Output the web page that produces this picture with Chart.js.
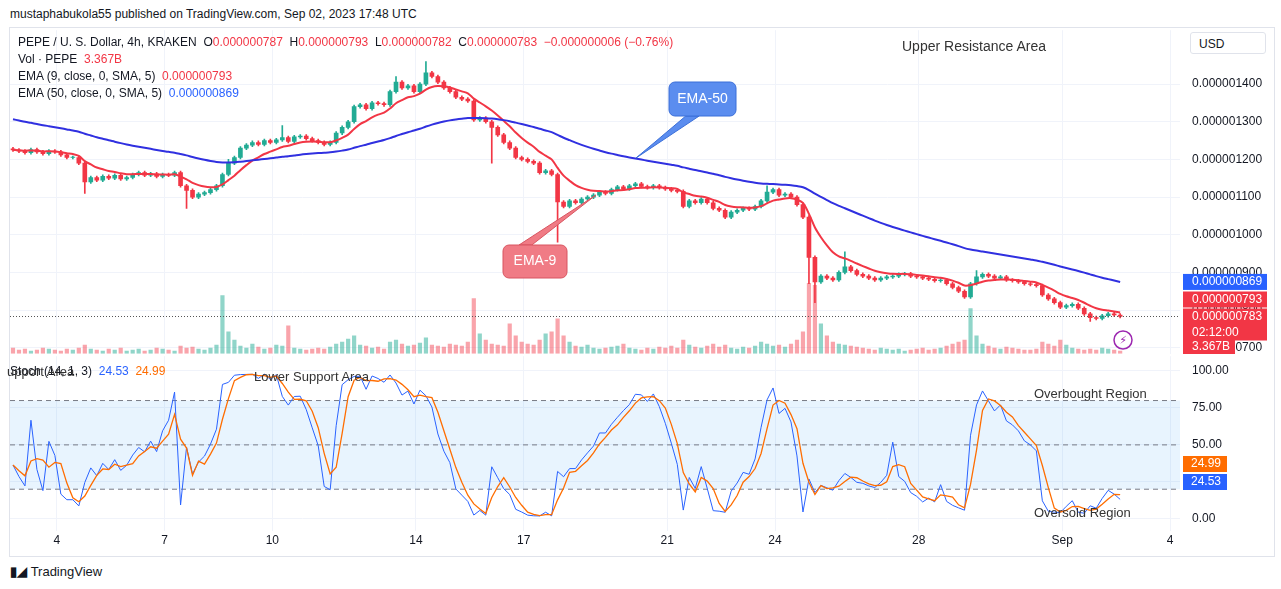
<!DOCTYPE html>
<html><head><meta charset="utf-8">
<script src="https://cdn.jsdelivr.net/npm/chart.js@4.4.0/dist/chart.umd.min.js"></script>
<style>
body{margin:0;width:1281px;height:589px;background:#fff;font-family:"Liberation Sans",Arial,sans-serif;position:relative;overflow:hidden;color:#131722}
.t{position:absolute;font-size:12px;white-space:nowrap}
#top{position:absolute;left:0;top:11px}
#bot{position:absolute;left:0;top:337px}
.frame{position:absolute;left:9px;top:27px;width:1264px;height:528px;border:1px solid #e0e3eb}
</style></head><body>
<div class="t" style="left:10px;top:7px;font-size:12px">mustaphabukola55 published on TradingView.com, Sep 02, 2023 17:48 UTC</div>
<div class="frame"></div>
<canvas id="bot" width="1281" height="220"></canvas>
<canvas id="top" width="1281" height="362"></canvas>
<div class="t" style="left:18px;top:35px">PEPE / U. S. Dollar, 4h, KRAKEN&nbsp; O<span style="color:#f23645">0.000000787</span>&nbsp; H<span style="color:#f23645">0.000000793</span>&nbsp; L<span style="color:#f23645">0.000000782</span>&nbsp; C<span style="color:#f23645">0.000000783 &nbsp;−0.000000006 (−0.76%)</span></div>
<div class="t" style="left:18px;top:52px">Vol · PEPE&nbsp; <span style="color:#f23645">3.367B</span></div>
<div class="t" style="left:18px;top:69px">EMA (9, close, 0, SMA, 5)&nbsp; <span style="color:#f23645">0.000000793</span></div>
<div class="t" style="left:18px;top:86px">EMA (50, close, 0, SMA, 5)&nbsp; <span style="color:#2962ff">0.000000869</span></div>
<div class="t" style="left:902px;top:38px;font-size:14px;color:#333">Upper Resistance Area</div>
<div class="t" style="left:1190px;top:32px;width:76px;height:22px;border:1px solid #e0e3eb;border-radius:3px;line-height:22px;padding-left:8px;box-sizing:border-box;background:#fff">USD</div>
<div class="t" style="left:10px;top:364px;font-size:12px">Stoch (14, 1, 3)&nbsp; <span style="color:#2962ff">24.53</span>&nbsp; <span style="color:#ff6d00">24.99</span></div>
<div class="t" style="left:7px;top:364px;font-size:13px;color:#333;background:none">upport Area</div>
<div class="t" style="left:254px;top:369px;font-size:13px;color:#333">Lower Support Area</div>
<div class="t" style="left:1034px;top:386px;font-size:13px;color:#333">Overbought Region</div>
<div class="t" style="left:1034px;top:505px;font-size:13px;color:#333">Oversold Region</div>
<div class="t" style="left:10px;top:564px;font-size:13px;font-weight:bold">▮◢ <span style="font-weight:normal">TradingView</span></div>
<script>
// closes in units of 1e-9 USD, one per 4h candle
const closes = [
1225,1222,1218,1226,1220,1215,1222,1220,1212,1205,
1205,1190,1140,1152,1145,1155,1150,1158,1148,1152,
1160,1165,1158,1162,1155,1160,1158,1165,1130,1118,
1100,1108,1112,1120,1130,1160,1190,1205,1230,1238,
1245,1240,1250,1245,1252,1258,1248,1260,1262,1255,
1250,1245,1240,1245,1270,1285,1300,1340,1345,1335,
1350,1348,1345,1380,1405,1390,1395,1380,1400,1430,
1420,1405,1390,1380,1365,1360,1355,1305,1310,1300,
1285,1265,1245,1230,1205,1200,1195,1190,1165,1170,
1160,1087,1075,1090,1085,1095,1100,1105,1113,1110,
1120,1127,1122,1130,1135,1128,1125,1130,1125,1122,
1118,1115,1075,1090,1085,1095,1085,1070,1065,1047,
1060,1065,1070,1068,1075,1090,1113,1120,1105,1108,
1100,1080,1047,940,875,890,885,880,900,915,
905,895,890,885,880,885,888,890,895,896,
890,888,885,882,878,880,870,860,850,835,
870,888,895,890,885,888,880,878,875,870,
868,865,840,830,820,808,812,815,805,790,
780,778,785,790,787,783];
const firstOpen = 1228;
const longHighs = [[69,1460],[64,1420],[139,955],[126,1130],[161,905],[36,1200],[45,1290]];
const longLows = [[91,980],[80,1190],[133,870],[134,820],[29,1070],[12,1110],[180,770]];
// volume in billions
const volumes = [
6,4,5,3,4,6,5,4,3,5, 4,6,9,5,4,3,5,4,6,3, 4,5,3,4,6,5,4,3,8,6,
7,5,4,6,9,58,22,14,8,6, 10,7,5,6,9,8,28,6,5,4, 5,6,5,7,10,12,15,18,9,8,
6,7,5,12,14,10,8,9,11,16, 9,8,7,10,9,8,12,55,20,14, 10,9,8,30,18,12,10,9,14,20,
22,35,18,12,8,7,9,6,5,6, 7,8,10,6,5,4,6,5,7,6, 8,6,14,9,7,6,8,10,7,9,
6,5,7,6,8,12,10,8,9,7, 10,14,22,70,68,30,18,12,10,9, 8,7,6,5,4,6,5,4,5,3,
4,5,6,4,5,6,8,10,12,14, 45,18,10,8,6,5,7,6,5,4, 4,5,12,10,8,14,9,6,5,4,
5,4,6,5,4,3];
const dayLabels = ['4','7','10','14','17','21','24','28','Sep','4'];
const dayOffsets = [0,3,6,10,13,17,20,24,28,31];
const priceTicks = [700,800,900,1000,1100,1200,1300,1400];
const stochTicks = [0,25,50,75,100];
const ema50Seed = 1310;

const TOP_Y = 11, BOT_Y = 337;   // canvas offsets on the page
const N = closes.length;
const opens = closes.map((c, i) => i === 0 ? firstOpen : closes[i - 1]);
const highs = closes.map((c, i) => Math.max(c, opens[i]) + 4);
const lows = closes.map((c, i) => Math.min(c, opens[i]) - 4);
longHighs.forEach(([i, v]) => highs[i] = v);
longLows.forEach(([i, v]) => lows[i] = v);

function ema(src, n, seed) {
    const k = 2 / (n + 1);
    let e = seed;
    return src.map(v => (e = e + k * (v - e)));
}
const ema9 = ema(closes, 9, closes[0]);
const ema50 = ema(closes, 50, ema50Seed);

const stochK = closes.map((c, i) => {
    const a = Math.max(0, i - 13);
    const hh = Math.max(...highs.slice(a, i + 1));
    const ll = Math.min(...lows.slice(a, i + 1));
    return hh === ll ? 50 : (c - ll) / (hh - ll) * 100;
});
const stochD = stochK.map((v, i) => {
    const s = stochK.slice(Math.max(0, i - 2), i + 1);
    return s.reduce((a, b) => a + b, 0) / s.length;
});

const tickIdx = dayOffsets.map(d => 7.33 + 6 * d);
const GREEN = '#22ab94', RED = '#f23645';
const xMin = -0.5, xMax = 195;

function xScale(display) {
    return {
        type: 'linear', min: xMin, max: xMax, offset: false,
        afterBuildTicks: s => { s.ticks = tickIdx.map(v => ({ value: v })); },
        ticks: { display: display, color: '#131722', font: { size: 12, family: 'Liberation Sans' },
                 callback: (v) => dayLabels[tickIdx.findIndex(t => Math.abs(t - v) < 0.01)] || '', maxRotation: 0, autoSkip: false },
        grid: { color: '#f0f3fa', drawTicks: false, offset: false }, border: { display: false }
    };
}
function rightAxis(a) { a.width = 101; }

// candles via floating bars
const bodies = closes.map((c, i) => ({ x: i, y: [opens[i], c === opens[i] ? c + 1 : c] }));
const wicks = closes.map((c, i) => ({ x: i, y: [lows[i], highs[i]] }));
const candleCols = closes.map((c, i) => c >= opens[i] ? GREEN : RED);
const volCols = closes.map((c, i) => c >= opens[i] ? 'rgba(34,171,148,0.5)' : 'rgba(242,54,69,0.45)');

const overlay = {
    id: 'overlay',
    afterDatasetsDraw(chart) {
        const ctx = chart.ctx, y = chart.scales.y, area = chart.chartArea;
        const Y = v => v - TOP_Y;
        const last = closes[N - 1];
        ctx.save();
        ctx.setLineDash([1, 2]); ctx.strokeStyle = '#555'; ctx.lineWidth = 1;
        ctx.beginPath(); ctx.moveTo(area.left, y.getPixelForValue(last)); ctx.lineTo(area.right, y.getPixelForValue(last)); ctx.stroke();
        ctx.setLineDash([]);
        function callout(bx, by, w, h, px, py, fill, stroke, text) {
            ctx.fillStyle = fill; ctx.strokeStyle = stroke; ctx.lineWidth = 1;
            ctx.beginPath(); ctx.moveTo(px, py); ctx.lineTo(bx + w * 0.25, by + (py > by ? h : 0)); ctx.lineTo(bx + w * 0.45, by + (py > by ? h : 0)); ctx.closePath(); ctx.fill(); ctx.stroke();
            ctx.beginPath(); ctx.roundRect(bx, by, w, h, 6); ctx.fill(); ctx.stroke();
            ctx.fillStyle = '#fff'; ctx.font = '14px Liberation Sans'; ctx.textAlign = 'center'; ctx.textBaseline = 'middle';
            ctx.fillText(text, bx + w / 2, by + h / 2);
        }
        callout(669, Y(82), 67, 34, 636, Y(158), '#5b8def', '#3b6fd8', 'EMA-50');
        callout(503, Y(245), 64, 33, 596, Y(195), '#f07b85', '#d85560', 'EMA-9');
        // right axis tags
        function tag(py, lines, bg) {
            ctx.fillStyle = bg; ctx.fillRect(area.right + 3, py - 8, 84, 16 * lines.length);
            ctx.fillStyle = '#fff'; ctx.font = '12px Liberation Sans'; ctx.textAlign = 'left'; ctx.textBaseline = 'middle';
            lines.forEach((l, k) => ctx.fillText(l, area.right + 12, py + 16 * k));
        }
        const pLast = y.getPixelForValue(last);
        tag(y.getPixelForValue(ema50[N - 1]), ['0.000000869'], '#2962ff');
        tag(pLast - 17, ['0.000000793'], RED);
        tag(pLast, ['0.000000783', '02:12:00'], RED);
        ctx.fillStyle = RED; ctx.fillRect(area.right + 3, Y(339), 52, 15);
        ctx.fillStyle = '#fff'; ctx.fillText('3.367B', area.right + 12, Y(347));
        // lightning icon
        ctx.strokeStyle = '#9c27b0'; ctx.lineWidth = 1.5;
        ctx.beginPath(); ctx.arc(1123, Y(340), 9, 0, Math.PI * 2); ctx.stroke();
        ctx.fillStyle = '#9c27b0'; ctx.font = '11px DejaVu Sans'; ctx.textAlign = 'center'; ctx.fillText('⚡', 1123, Y(341));
        ctx.restore();
    }
};

new Chart(document.getElementById('top'), {
    type: 'bar',
    data: {
        datasets: [
            { type: 'bar', data: volumes.map((v, i) => ({ x: i, y: v })), backgroundColor: volCols, yAxisID: 'vol', barPercentage: 0.7, categoryPercentage: 1, order: 5 },
            { type: 'line', data: ema50.map((v, i) => ({ x: i, y: v })), borderColor: '#3030e0', borderWidth: 2, pointRadius: 0, tension: 0.3, order: 1 },
            { type: 'line', data: ema9.map((v, i) => ({ x: i, y: v })), borderColor: '#f23645', borderWidth: 2, pointRadius: 0, tension: 0.3, order: 2 },
            { type: 'bar', data: wicks, backgroundColor: candleCols, barThickness: 1, grouped: false, order: 4 },
            { type: 'bar', data: bodies, backgroundColor: candleCols, barThickness: 4, grouped: false, order: 3 }
        ]
    },
    options: {
        responsive: false, animation: false,
        layout: { padding: { left: 10, right: 0, top: 0, bottom: 0 } },
        plugins: { legend: { display: false }, tooltip: { enabled: false } },
        scales: {
            x: xScale(false),
            y: { position: 'right', min: 684, max: 1543, afterFit: rightAxis,
                 afterBuildTicks: s => { s.ticks = priceTicks.map(v => ({ value: v })); },
                 ticks: { color: '#131722', font: { size: 12, family: 'Liberation Sans' }, padding: 12, callback: v => (v / 1e9).toFixed(9) },
                 grid: { color: '#f0f3fa', drawTicks: false }, border: { display: false } },
            vol: { display: false, min: 0, max: 320 }
        }
    },
    plugins: [overlay]
});

const stochDeco = {
    id: 'stochDeco',
    beforeDatasetsDraw(chart) {
        const ctx = chart.ctx, y = chart.scales.y, a = chart.chartArea;
        ctx.save();
        ctx.fillStyle = 'rgba(33,150,243,0.1)';
        ctx.fillRect(a.left, y.getPixelForValue(80), a.right - a.left, y.getPixelForValue(20) - y.getPixelForValue(80));
        ctx.setLineDash([5, 4]); ctx.strokeStyle = '#787b86'; ctx.lineWidth = 1;
        [80, 50, 20].forEach(v => { const p = y.getPixelForValue(v); ctx.beginPath(); ctx.moveTo(a.left, p); ctx.lineTo(a.right, p); ctx.stroke(); });
        ctx.restore();
    },
    afterDatasetsDraw(chart) {
        const ctx = chart.ctx, a = chart.chartArea;
        ctx.save(); ctx.font = '12px Liberation Sans'; ctx.textBaseline = 'middle';
        ctx.fillStyle = '#ff6d00'; ctx.fillRect(a.right + 3, 456 - BOT_Y, 44, 16);
        ctx.fillStyle = '#2962ff'; ctx.fillRect(a.right + 3, 474 - BOT_Y, 44, 16);
        ctx.fillStyle = '#fff'; ctx.fillText('24.99', a.right + 11, 464 - BOT_Y); ctx.fillText('24.53', a.right + 11, 482 - BOT_Y);
        ctx.restore();
    }
};

new Chart(document.getElementById('bot'), {
    type: 'line',
    data: {
        datasets: [
            { data: stochD.map((v, i) => ({ x: i, y: v })), borderColor: '#ff6d00', borderWidth: 1.3, pointRadius: 0 },
            { data: stochK.map((v, i) => ({ x: i, y: v })), borderColor: '#2962ff', borderWidth: 1, pointRadius: 0 }
        ]
    },
    options: {
        responsive: false, animation: false,
        layout: { padding: { left: 10, right: 0, top: 0, bottom: 6 } },
        plugins: { legend: { display: false }, tooltip: { enabled: false } },
        scales: {
            x: xScale(true),
            y: { position: 'right', min: -8, max: 110, afterFit: rightAxis,
                 afterBuildTicks: s => { s.ticks = stochTicks.map(v => ({ value: v })); },
                 ticks: { color: '#131722', font: { size: 12, family: 'Liberation Sans' }, padding: 12, callback: v => v.toFixed(2) },
                 grid: { color: '#f0f3fa', drawTicks: false }, border: { display: false } }
        }
    },
    plugins: [stochDeco]
});
</script>
</body></html>
